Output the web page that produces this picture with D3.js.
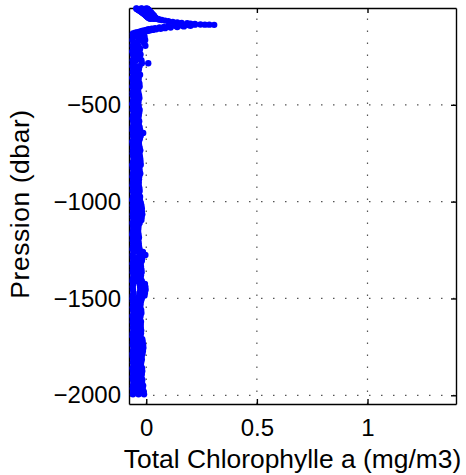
<!DOCTYPE html>
<html>
<head>
<meta charset="utf-8">
<script src="https://cdn.jsdelivr.net/npm/d3@7"></script>
<style>
  body { margin: 0; background: #fff; }
  text { font-family: "Liberation Sans", Arial, Helvetica, sans-serif; fill: #000; }
</style>
</head>
<body>
<script>
// surface layer: mixed layer blob, chlorophyll max near -85 dbar and the way back
var surfPres = [-2, -4, -6, -8, -10, -12, -14, -16, -18, -20,
                -22, -24, -26, -28, -30, -32, -34, -36, -38, -40,
                -42, -44, -46, -48, -50, -52, -54, -56,
                -2, -4, -6, -8, -10, -12, -14, -16, -18, -20,
                -22, -24, -26, -28, -30, -32, -34, -36, -38, -40,
                -42, -44, -46, -48, -50, -52, -54, -56,
                -2, -4, -6, -8, -10, -12, -14, -16, -18, -20,
                -22, -24, -26, -28, -30, -32, -34, -36, -38, -40,
                -42, -44, -46, -48, -50, -52, -54, -56,
                -58, -60, -62, -65, -68, -72, -74, -77, -79, -81,
                -83, -85, -86, -86, -87,
                -86, -88, -90, -92, -95, -98, -101, -104, -107, -110,
                -113, -116, -119, -122, -125, -128,
                -92, -95, -98, -101, -104, -107, -110, -113, -116, -119,
                -122, -125, -128, -131, -134, -137, -140,
                -131, -134, -137, -140, -143, -146]
var surfChl  = [-0.045, -0.043, -0.04, -0.038, -0.034, -0.033, -0.029, -0.027, -0.024, -0.022,
                -0.019, -0.017, -0.014, -0.012, -0.01, -0.007, -0.006, -0.003, -0.002, 0.0,
                0.003, 0.004, 0.007, 0.008, 0.011, 0.012, 0.016, 0.02,
                -0.022, -0.02, -0.018, -0.016, -0.012, -0.013, -0.008, -0.006, -0.004, -0.001,
                0.002, 0.003, 0.006, 0.008, 0.01, 0.012, 0.014, 0.015, 0.017, 0.02,
                0.02, 0.022, 0.025, 0.024, 0.028, 0.03, 0.032, 0.035,
                0.0, 0.005, 0.003, 0.008, 0.01, 0.006, 0.012, 0.015, 0.011, 0.018,
                0.02, 0.016, 0.022, 0.025, 0.02, 0.027, 0.03, 0.025, 0.032, 0.035,
                0.03, 0.036, 0.038, 0.035, 0.04, 0.042, 0.045, 0.05,
                0.055, 0.06, 0.07, 0.085, 0.1, 0.12, 0.14, 0.16, 0.185, 0.2,
                0.22, 0.245, 0.265, 0.285, 0.307,
                0.22, 0.19, 0.16, 0.13, 0.1, 0.08, 0.06, 0.04, 0.025, 0.01,
                0.0, -0.01, -0.02, -0.03, -0.04, -0.05,
                0.2, 0.17, 0.14, 0.11, 0.085, 0.065, 0.045, 0.03, 0.015, 0.005,
                -0.005, -0.015, -0.025, -0.035, -0.045, -0.055, -0.06,
                -0.06, -0.02, -0.03, -0.045, -0.01, -0.035]

// deep part: three casts read on the same pressure levels
var deepPres = [-150, -165, -180, -195, -210, -225, -240, -255, -270, -285,
                -300, -315, -330, -345, -360, -375, -390, -405, -420, -435,
                -450, -465, -480, -495, -510, -525, -540, -555, -570, -585,
                -600, -615, -630, -645, -660, -675, -690, -705, -720, -735,
                -750, -765, -780, -795, -810, -825, -840, -855, -870, -885,
                -900, -915, -930, -945, -960, -975, -990, -1005, -1020, -1035,
                -1050, -1065, -1080, -1095, -1110, -1125, -1140, -1155, -1170, -1185,
                -1200, -1215, -1230, -1245, -1260, -1275, -1290, -1305, -1320, -1335,
                -1350, -1365, -1380, -1395, -1410, -1425, -1440, -1455, -1470, -1485,
                -1500, -1515, -1530, -1545, -1560, -1575, -1590, -1605, -1620, -1635,
                -1650, -1665, -1680, -1695, -1710, -1725, -1740, -1755, -1770, -1785,
                -1800, -1815, -1830, -1845, -1860, -1875, -1890, -1905, -1920, -1935,
                -1950, -1965, -1980, -1995]
var castA = [-0.06, -0.062, -0.058, -0.061, -0.059, -0.063, -0.06, -0.057, -0.061, -0.06,
             -0.062, -0.059, -0.061, -0.058, -0.063, -0.06, -0.059, -0.062, -0.058, -0.061,
             -0.061, -0.058, -0.06, -0.063, -0.059, -0.061, -0.057, -0.06, -0.062, -0.059,
             -0.058, -0.061, -0.062, -0.059, -0.06, -0.058, -0.063, -0.061, -0.059, -0.06,
             -0.061, -0.059, -0.057, -0.06, -0.063, -0.061, -0.058, -0.06, -0.062, -0.059,
             -0.06, -0.062, -0.059, -0.061, -0.058, -0.06, -0.063, -0.059, -0.061, -0.06,
             -0.059, -0.061, -0.06, -0.058, -0.062, -0.06, -0.059, -0.061, -0.063, -0.06,
             -0.061, -0.059, -0.06, -0.062, -0.058, -0.061, -0.06, -0.059, -0.062, -0.06,
             -0.06, -0.061, -0.058, -0.06, -0.062, -0.059, -0.061, -0.06, -0.058, -0.061,
             -0.062, -0.06, -0.059, -0.061, -0.06, -0.058, -0.062, -0.06, -0.061, -0.059,
             -0.06, -0.058, -0.061, -0.062, -0.059, -0.06, -0.061, -0.058, -0.06, -0.062,
             -0.061, -0.059, -0.06, -0.058, -0.062, -0.06, -0.059, -0.061, -0.06, -0.058,
             -0.06, -0.061, -0.059, -0.06]
var castB = [-0.04, -0.03, -0.045, -0.035, -0.048, -0.044, -0.047, -0.043, -0.046, -0.02,
             -0.046, -0.044, -0.048, -0.045, -0.047, -0.043, -0.046, -0.048, -0.044, -0.047,
             -0.045, -0.047, -0.044, -0.048, -0.046, -0.045, -0.047, -0.044, -0.048, -0.046,
             -0.047, -0.045, -0.044, -0.035, -0.046, -0.048, -0.045, -0.047, -0.044, -0.046,
             -0.044, -0.046, -0.045, -0.043, -0.047, -0.045, -0.046, -0.044, -0.048, -0.047,
             -0.046, -0.048, -0.045, -0.047, -0.044, -0.046, -0.045, -0.043, -0.042, -0.04,
             -0.041, -0.04, -0.043, -0.042, -0.046, -0.048, -0.047, -0.049, -0.046, -0.047,
             -0.048, -0.046, -0.047, -0.045, -0.035, -0.03, -0.04, -0.042, -0.044, -0.043,
             -0.043, -0.042, -0.044, -0.045, -0.04, -0.03, -0.028, -0.027, -0.03, -0.032,
             -0.042, -0.044, -0.045, -0.046, -0.043, -0.042, -0.045, -0.046, -0.044, -0.045,
             -0.045, -0.043, -0.044, -0.045, -0.04, -0.038, -0.037, -0.036, -0.038, -0.04,
             -0.042, -0.041, -0.043, -0.044, -0.041, -0.04, -0.042, -0.043, -0.04, -0.041,
             -0.038, -0.039, -0.036, -0.035]
var castC = [-0.008, -0.005, -0.01, -0.004, -0.028, -0.031, -0.026, -0.03, -0.022, 0.009,
             -0.03, -0.033, -0.036, -0.028, -0.034, -0.035, -0.031, -0.03, -0.037, -0.036,
             -0.033, -0.031, -0.035, -0.036, -0.034, -0.03, -0.032, -0.034, -0.036, -0.032,
             -0.034, -0.03, -0.028, -0.014, -0.025, -0.029, -0.033, -0.033, -0.03, -0.027,
             -0.031, -0.029, -0.027, -0.026, -0.025, -0.031, -0.03, -0.027, -0.032, -0.033,
             -0.034, -0.034, -0.031, -0.03, -0.033, -0.028, -0.029, -0.025, -0.022, -0.02,
             -0.02, -0.018, -0.021, -0.022, -0.03, -0.035, -0.036, -0.037, -0.035, -0.033,
             -0.036, -0.034, -0.033, -0.03, -0.015, -0.004, -0.018, -0.02, -0.025, -0.024,
             -0.022, -0.021, -0.024, -0.025, -0.02, -0.006, -0.004, -0.003, -0.006, -0.008,
             -0.02, -0.024, -0.026, -0.027, -0.023, -0.022, -0.026, -0.028, -0.024, -0.025,
             -0.025, -0.023, -0.024, -0.026, -0.018, -0.016, -0.014, -0.013, -0.015, -0.017,
             -0.021, -0.02, -0.023, -0.024, -0.019, -0.018, -0.02, -0.022, -0.018, -0.019,
             -0.014, -0.016, -0.012, -0.01]

var xTicks = [0, 0.5, 1]
var yTicks = [-2000, -1500, -1000, -500]

var box = {left: 129, right: 456, top: 8, bottom: 404}
var width = box.right - box.left
var height = box.bottom - box.top

var xScale = d3.scaleLinear()
                .domain([-0.078, 1.4])
                .range([0, width])

var yScale = d3.scaleLinear()
                .domain([-2045, 0])
                .range([height, 0])

var svg = d3.select("body")
    .append("svg")
    .attr("width", 466)
    .attr("height", 475)

var plot = svg.append("g")
    .attr("transform", "translate(" + box.left + "," + box.top + ")")

// dotted grid
var grid = plot.append("g").attr("class", "grid")

grid.selectAll("line.gx")
    .data(xTicks)
    .enter()
    .append("line")
    .attr("class", "gx")
    .attr("x1", function(d) { return xScale(d) })
    .attr("x2", function(d) { return xScale(d) })
    .attr("y1", height)
    .attr("y2", 0)

grid.selectAll("line.gy")
    .data(yTicks)
    .enter()
    .append("line")
    .attr("class", "gy")
    .attr("x1", 0)
    .attr("x2", width)
    .attr("y1", function(d) { return yScale(d) })
    .attr("y2", function(d) { return yScale(d) })

grid.selectAll("line")
    .attr("stroke", "#555")
    .attr("stroke-width", 1.2)
    .attr("stroke-dasharray", "1.5,10.5")

// axes, ticks point inward like matlab
var tickLen = 5
var bottomAxis = d3.axisBottom(xScale).tickValues(xTicks).tickSizeInner(-tickLen).tickSizeOuter(0)
                    .tickPadding(15).tickFormat(d3.format(""))
var topAxis = d3.axisTop(xScale).tickValues(xTicks).tickSizeInner(-tickLen).tickSizeOuter(0).tickFormat("")
var leftAxis = d3.axisLeft(yScale).tickValues(yTicks).tickSizeInner(-tickLen).tickSizeOuter(0)
                    .tickPadding(8).tickFormat(d3.format("d"))
var rightAxis = d3.axisRight(yScale).tickValues(yTicks).tickSizeInner(-tickLen).tickSizeOuter(0).tickFormat("")

plot.append("g").attr("class", "ax").attr("transform", "translate(0," + height + ")").call(bottomAxis)
plot.append("g").attr("class", "ax").call(topAxis)
plot.append("g").attr("class", "ax").call(leftAxis)
plot.append("g").attr("class", "ax").attr("transform", "translate(" + width + ",0)").call(rightAxis)

plot.selectAll("g.ax path, g.ax line")
    .attr("stroke", "#000")
    .attr("stroke-width", 1.4)

plot.selectAll("g.ax text")
    .attr("font-size", 24)
    .attr("font-family", "Liberation Sans, Arial, sans-serif")
    .attr("fill", "#000")

// labels
svg.append("text")
    .attr("x", (box.left + box.right) / 2)
    .attr("y", 468)
    .attr("text-anchor", "middle")
    .attr("font-size", 26.4)
    .text("Total Chlorophylle a (mg/m3)")

svg.append("text")
    .attr("transform", "translate(28.5,204) rotate(-90)")
    .attr("text-anchor", "middle")
    .attr("font-size", 26.4)
    .attr("letter-spacing", 0.6)
    .text("Pression (dbar)")

// the profile dots
var points = []
surfPres.forEach(function(p, i) { points.push({pres: p, chl: surfChl[i]}) })
deepPres.forEach(function(p, i) {
    points.push({pres: p, chl: castA[i]})
    points.push({pres: p, chl: castB[i]})
    points.push({pres: p, chl: castC[i]})
})

plot.append("g")
    .selectAll("circle")
    .data(points)
    .enter()
    .append("circle")
    .attr("cx", function(d) { return xScale(d.chl) })
    .attr("cy", function(d) { return yScale(d.pres) })
    .attr("r", 3.2)
    .attr("fill", "#0000ff")
</script>
</body>
</html>
